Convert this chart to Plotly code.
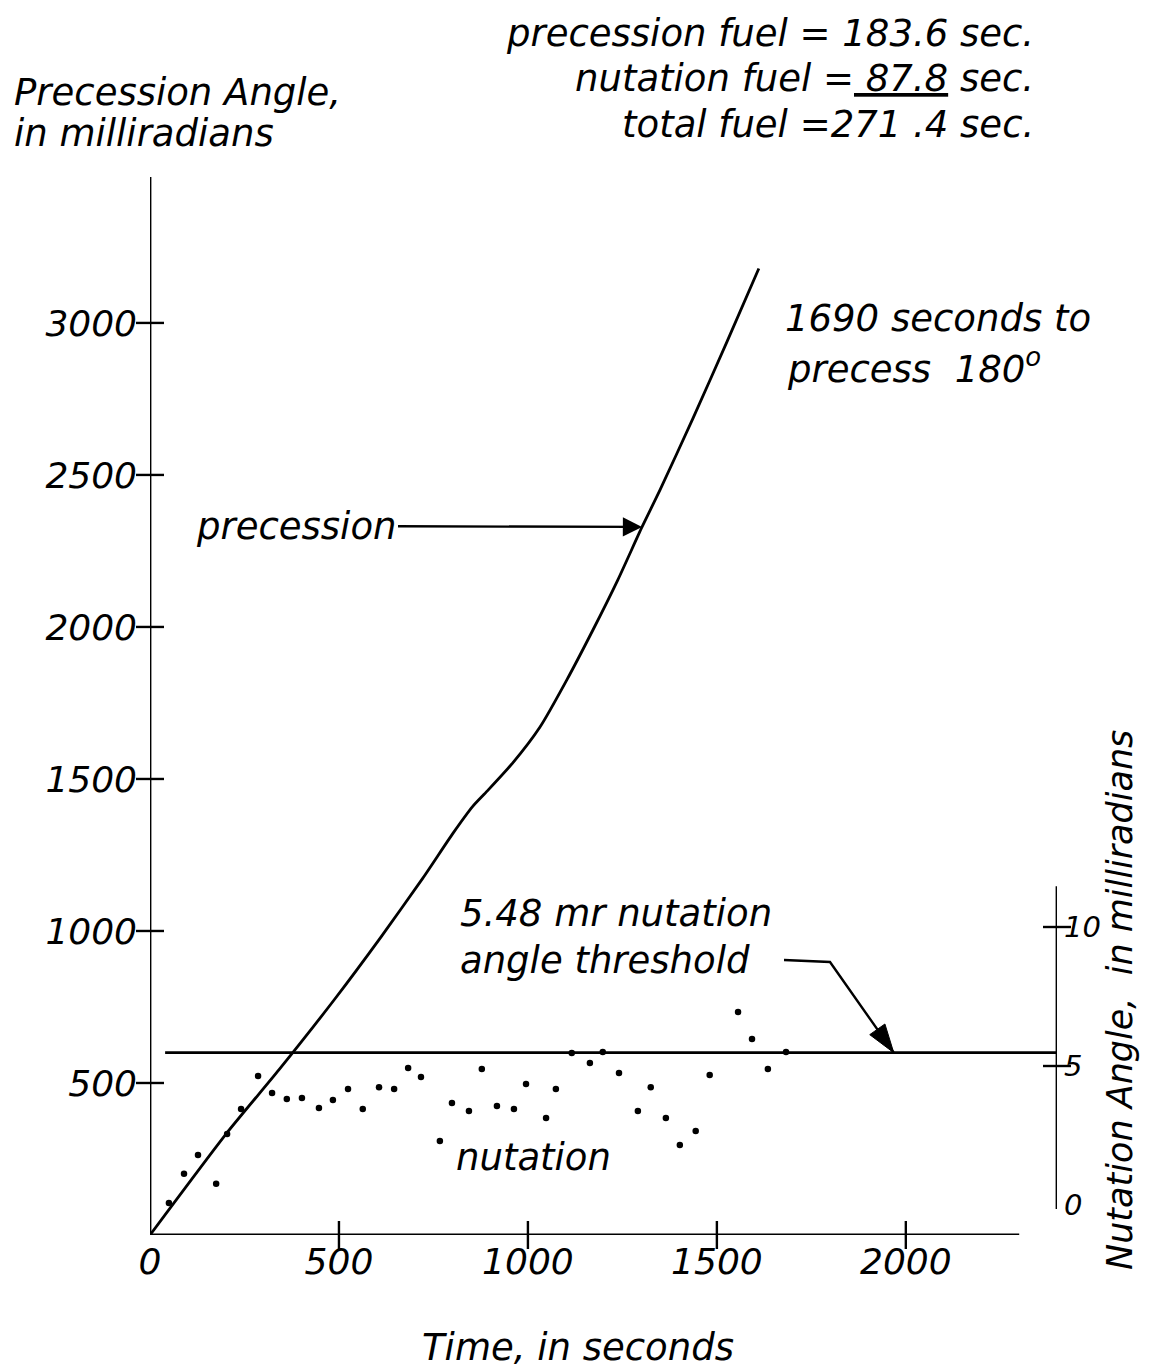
import plotly.graph_objects as go

# ---------------- data ----------------
# precession angle (mr) vs time (s)
prec_time = [0, 201, 341, 487, 611, 722, 802, 854, 892, 960, 1032, 1103, 1172,
             1238, 1302, 1349, 1437, 1526, 1611]
prec_angle = [0, 332, 543, 773, 980, 1174, 1322, 1410, 1460, 1553, 1671, 1826,
              1990, 2155, 2329, 2449, 2687, 2936, 3179]

# nutation angle (mr) samples vs time (s)
nut_time = [50, 90, 127, 175, 204, 241, 286, 323, 362, 402, 447, 484, 524, 563,
            606, 646, 683, 717, 767, 799, 844, 878, 918, 963, 995, 1048, 1074,
            1116, 1164, 1198, 1241, 1291, 1325, 1365, 1402, 1444, 1481, 1556,
            1593, 1635, 1683]
nut_angle = [0.07, 1.12, 1.80, 0.76, 2.55, 3.45, 4.64, 4.03, 3.81, 3.85, 3.49,
             3.78, 4.17, 3.45, 4.24, 4.17, 4.93, 4.60, 2.30, 3.67, 3.38, 4.89,
             3.56, 3.45, 4.35, 3.13, 4.17, 5.47, 5.11, 5.50, 4.75, 3.38, 4.24,
             3.13, 2.16, 2.66, 4.68, 6.94, 5.97, 4.89, 5.50]

threshold_value = 5.48
threshold_time = [40, 2400]

x_ticks = [0, 500, 1000, 1500, 2000]
y_ticks = [500, 1000, 1500, 2000, 2500, 3000]
y2_ticks = [0, 5, 10]
y2_cross_ticks = [5, 10]

# ---------------- layout geometry ----------------
W, H = 1165, 1372
PL, PR, PT, PB = 150, 1057, 177, 1235
X_RANGE = [0, 2400]
Y_RANGE = [0, 3480]
Y2_RANGE = [-30 / 27.8, (PB - PT - 30) / 27.8]


def pxx(xp):
    return (xp - PL) / (PR - PL)


def pxy(yp):
    return (PB - yp) / (PB - PT)


def dx(xp):
    return X_RANGE[0] + (xp - PL) / (PR - PL) * (X_RANGE[1] - X_RANGE[0])


def dy(yp):
    return Y_RANGE[0] + (PB - yp) / (PB - PT) * (Y_RANGE[1] - Y_RANGE[0])


def dy2(yp):
    return Y2_RANGE[0] + (PB - yp) / (PB - PT) * (Y2_RANGE[1] - Y2_RANGE[0])


FONT = "DejaVu Sans"
INK = "black"

fig = go.Figure()

# precession curve
fig.add_trace(go.Scatter(x=prec_time, y=prec_angle, mode="lines",
                         line=dict(color=INK, width=2.8, shape="spline",
                                   smoothing=0.6),
                         hoverinfo="skip", showlegend=False))

# threshold line (nutation axis)
fig.add_trace(go.Scatter(x=threshold_time, y=[threshold_value] * len(threshold_time),
                         mode="lines", yaxis="y2",
                         line=dict(color=INK, width=2.8), showlegend=False))

# nutation dots
fig.add_trace(go.Scatter(x=nut_time, y=nut_angle, mode="markers", yaxis="y2",
                         marker=dict(color=INK, size=6.5), showlegend=False))

# tick crosses
fig.add_trace(go.Scatter(x=[0] * len(y_ticks), y=y_ticks, mode="markers",
                         marker=dict(symbol="line-ew", size=20,
                                     line=dict(color=INK, width=2.4)),
                         cliponaxis=False, showlegend=False))
fig.add_trace(go.Scatter(x=x_ticks[1:], y=[0] * (len(x_ticks) - 1), mode="markers",
                         marker=dict(symbol="line-ns", size=20,
                                     line=dict(color=INK, width=2.4)),
                         cliponaxis=False, showlegend=False))
fig.add_trace(go.Scatter(x=[X_RANGE[1]] * len(y2_cross_ticks), y=y2_cross_ticks,
                         mode="markers", yaxis="y2",
                         marker=dict(symbol="line-ew", size=20,
                                     line=dict(color=INK, width=2.4)),
                         cliponaxis=False, showlegend=False))

# leader + arrow from the threshold label to the threshold line
fig.add_trace(go.Scatter(x=[dx(784), dx(830), 1968],
                         y=[dy2(960), dy2(962), threshold_value],
                         mode="lines+markers", yaxis="y2",
                         line=dict(color=INK, width=2.4),
                         marker=dict(symbol="arrow", size=[0, 0, 30], color=INK,
                                     opacity=1, angleref="previous",
                                     line=dict(color=INK, width=1)),
                         cliponaxis=False, hoverinfo="skip", showlegend=False))

# axis lines
shapes = [
    dict(type="line", xref="x", yref="y", x0=0, x1=2300, y0=0, y1=0,
         line=dict(color=INK, width=2.8)),
    dict(type="line", xref="x", yref="y", x0=0, x1=0, y0=0, y1=Y_RANGE[1],
         line=dict(color=INK, width=2.8)),
    dict(type="line", xref="x", yref="y2", x0=X_RANGE[1], x1=X_RANGE[1],
         y0=-0.14, y1=11.47, line=dict(color=INK, width=2.8)),
]

TXT = dict(family=FONT, size=37, color=INK, style="italic")

annotations = [
    dict(text="Precession Angle,", x=pxx(12), y=pxy(92)),
    dict(text="in milliradians", x=pxx(12), y=pxy(134)),
    dict(text="1690 seconds to", x=pxx(783), y=pxy(318)),
    dict(text="precess  180<sup>o</sup>", x=pxx(785), y=pxy(366)),
    dict(text="5.48 mr nutation", x=pxx(458), y=pxy(913)),
    dict(text="angle threshold", x=pxx(458), y=pxy(960)),
    dict(text="nutation", x=pxx(454), y=pxy(1157)),
]
ann = []
for a in annotations:
    a.update(xref="paper", yref="paper", xanchor="left", yanchor="middle",
             showarrow=False, font=TXT)
    ann.append(a)

for txt, yp in [("precession fuel = 183.6 sec.", 33),
                ("nutation fuel =<u> 87.8</u> sec.", 78),
                ("total fuel =271 .4 sec.", 125)]:
    ann.append(dict(text=txt, x=pxx(1036), y=pxy(yp), xref="paper", yref="paper",
                    xanchor="right", yanchor="middle", showarrow=False, font=TXT))

ann.append(dict(text="Time, in seconds", x=pxx(578), y=pxy(1347), xref="paper",
                yref="paper", xanchor="center", yanchor="middle", showarrow=False,
                font=TXT))
ann.append(dict(text="Nutation Angle,  in milliradians", x=pxx(1120), y=pxy(1000),
                xref="paper", yref="paper", xanchor="center", yanchor="middle",
                textangle=-90, showarrow=False,
                font=dict(family=FONT, size=35, color=INK, style="italic")))

# "precession" label with arrow to the curve
ann.append(dict(text="precession", x=1302, y=2329, xref="x", yref="y",
                ax=dx(296), ay=dy(526), axref="x", ayref="y",
                showarrow=True, arrowhead=2, arrowsize=1.6, arrowwidth=2.4,
                arrowcolor=INK, standoff=0, font=TXT))

TICKFONT = dict(family=FONT, size=36, color=INK, style="italic")

fig.update_layout(
    width=W, height=H,
    margin=dict(l=PL, r=W - PR, t=PT, b=H - PB, pad=0),
    paper_bgcolor="white", plot_bgcolor="white",
    showlegend=False,
    xaxis=dict(range=X_RANGE, tickvals=x_ticks, ticktext=[str(v) for v in x_ticks],
               ticks="", showgrid=False, zeroline=False, showline=False,
               tickfont=TICKFONT, ticklabelstandoff=2),
    yaxis=dict(range=Y_RANGE, tickvals=y_ticks, ticktext=[str(v) for v in y_ticks],
               ticks="", showgrid=False, zeroline=False, showline=False,
               tickfont=TICKFONT, ticklabelstandoff=12),
    yaxis2=dict(range=Y2_RANGE, overlaying="y", side="right", tickvals=y2_ticks,
                ticktext=[str(v) for v in y2_ticks], ticks="", showgrid=False,
                zeroline=False, showline=False,
                tickfont=dict(family=FONT, size=29, color=INK, style="italic"),
                ticklabelstandoff=6),
    shapes=shapes,
    annotations=ann,
)

fig.write_html("out.html")
